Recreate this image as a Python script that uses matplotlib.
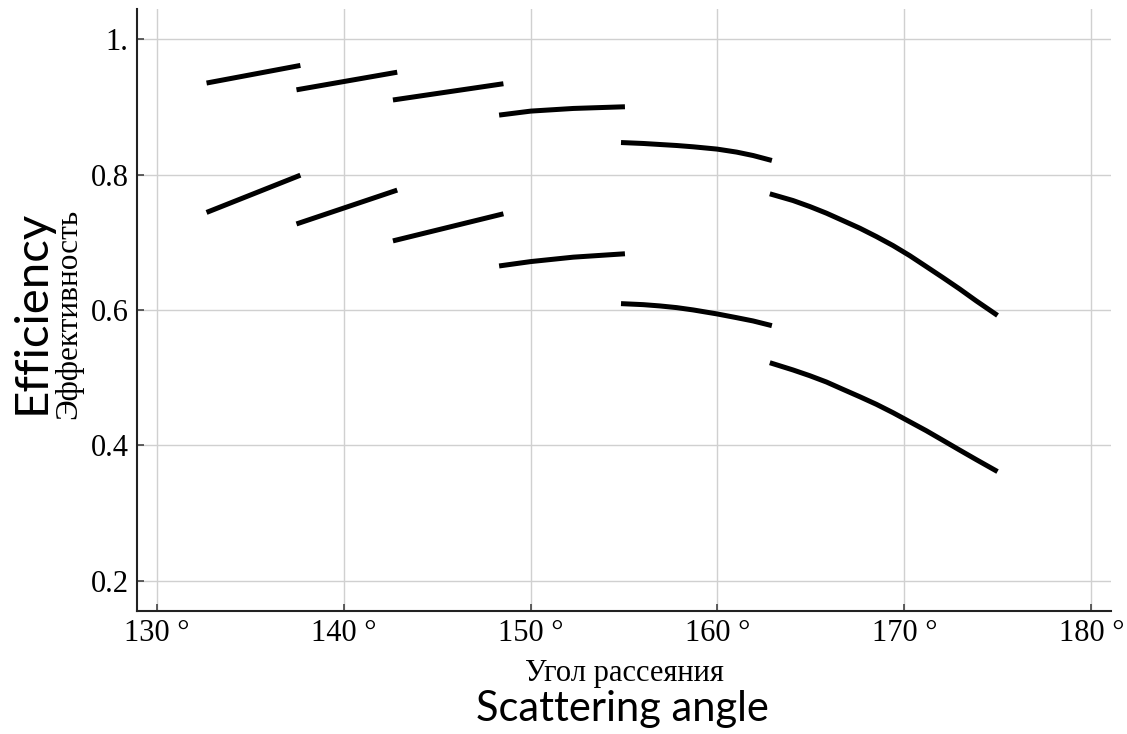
import matplotlib
matplotlib.use("Agg")
import matplotlib.pyplot as plt

# upper branch, one list per detector segment: angle (deg), efficiency
upper_x = [
    [132.67, 137.69],
    [137.48, 142.87],
    [142.64, 148.55],
    [148.32, 150.02, 152.29, 155.05],
    [154.84, 156.03, 156.92, 157.82, 158.70, 159.98, 161.02, 161.91, 162.91],
    [162.80, 164.04, 164.94, 165.83, 166.71, 167.61, 168.50, 169.39,
     170.28, 171.17, 172.06, 172.95, 173.84, 174.98],
]
upper_y = [
    [0.935, 0.961],
    [0.925, 0.951],
    [0.910, 0.934],
    [0.8877, 0.8936, 0.8975, 0.9000],
    [0.8472, 0.8458, 0.8443, 0.8428, 0.8409, 0.8375, 0.8331, 0.8280, 0.8207],
    [0.7715, 0.7616, 0.7527, 0.7429, 0.7320, 0.7208, 0.7084, 0.6951,
     0.6803, 0.6641, 0.6478, 0.6311, 0.6135, 0.5920],
]

# lower branch
lower_x = [
    [132.67, 137.69],
    [137.48, 142.87],
    [142.64, 148.55],
    [148.32, 150.02, 152.29, 155.05],
    [154.84, 156.03, 156.92, 157.82, 158.70, 159.98, 161.02, 161.91, 162.91],
    [162.80, 164.04, 164.94, 165.83, 166.71, 167.61, 168.50, 169.39,
     170.28, 171.17, 172.06, 172.95, 173.84, 174.98],
]
lower_y = [
    [0.744, 0.799],
    [0.727, 0.777],
    [0.702, 0.742],
    [0.665, 0.6715, 0.678, 0.683],
    [0.6094, 0.6079, 0.6060, 0.6035, 0.6001, 0.5942, 0.5887, 0.5838, 0.5769],
    [0.5222, 0.5115, 0.5030, 0.4937, 0.4829, 0.4720, 0.4608, 0.4484,
     0.4351, 0.4218, 0.4076, 0.3933, 0.3792, 0.3615],
]

xticks = [130, 140, 150, 160, 170, 180]
xticklabels = ["130 °", "140 °", "150 °", "160 °", "170 °", "180 °"]
yticks = [0.2, 0.4, 0.6, 0.8, 1.0]
yticklabels = ["0.2", "0.4", "0.6", "0.8", "1."]

serif = "Liberation Serif"
sans = "Lato"

fig = plt.figure(figsize=(11.27, 7.34), dpi=100)
ax = fig.add_axes([137 / 1127, 1 - 611 / 734, (1111 - 137) / 1127, (611 - 9) / 734])

for xs, ys in zip(upper_x, upper_y):
    ax.plot(xs, ys, color="black", lw=3.6, solid_capstyle="butt", solid_joinstyle="round")
for xs, ys in zip(lower_x, lower_y):
    ax.plot(xs, ys, color="black", lw=3.6, solid_capstyle="butt", solid_joinstyle="round")

ax.set_xlim(128.95, 181.05)
ax.set_ylim(0.1557, 1.0443)

ax.set_xticks(xticks)
ax.set_xticklabels(xticklabels, fontfamily=serif, fontsize=22)
ax.set_yticks(yticks)
ax.set_yticklabels(yticklabels, fontfamily=serif, fontsize=22)
ax.tick_params(direction="in", length=5, width=1.2, color="#444444", pad=6)

ax.grid(True, color="#d0d0d0", lw=1.0)
ax.set_axisbelow(True)

for s in ["top", "right"]:
    ax.spines[s].set_visible(False)
for s in ["left", "bottom"]:
    ax.spines[s].set_linewidth(1.5)
    ax.spines[s].set_color("#222222")

# bilingual axis titles
fig.text(32 / 1127, 1 - 312 / 734, "Efficiency", rotation=90, fontfamily=sans,
         fontsize=34, ha="center", va="center")
fig.text(69 / 1127, 1 - 314 / 734, "Эффективность", rotation=90, fontfamily=serif,
         fontsize=22.5, ha="center", va="center")
fig.text(624 / 1127, 1 - 681 / 734, "Угол рассеяния", fontfamily=serif,
         fontsize=22, ha="center", va="baseline")
fig.text(622 / 1127, 1 - 721 / 734, "Scattering angle", fontfamily=sans,
         fontsize=30, ha="center", va="baseline")

fig.savefig("out.png", dpi=100)
